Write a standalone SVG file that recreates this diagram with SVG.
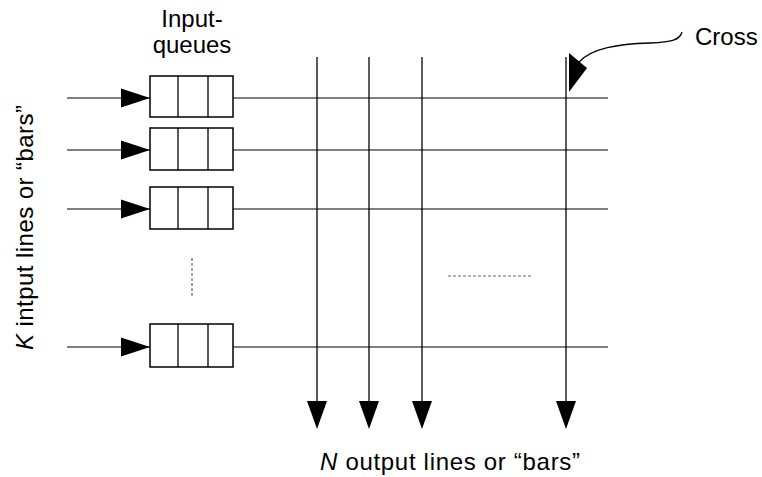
<svg xmlns="http://www.w3.org/2000/svg" width="762" height="477" viewBox="0 0 762 477">
<style>
.t{font-family:"Liberation Sans",Arial,sans-serif;font-size:24px;fill:#000}
.h{stroke:#555;stroke-width:1.5;fill:none}
.v{stroke:#000;stroke-width:1.3;fill:none}
.q{stroke:#000;stroke-width:1.5;fill:#fff}
.d{stroke:#000;stroke-width:1.3}
.ah{fill:#000}
.dot{stroke:#666;stroke-width:1.2;stroke-dasharray:3,2;fill:none}
</style>
<rect width="762" height="477" fill="#fff"/>
<g id="connectors">
  <line class="h" x1="67" y1="98" x2="608" y2="98"/>
  <line class="h" x1="67" y1="150" x2="608" y2="150"/>
  <line class="h" x1="67" y1="209" x2="608" y2="209"/>
  <line class="h" x1="67" y1="347" x2="608" y2="347"/>
  <polygon class="ah" points="121,88.5 150,98 121,107.5"/>
  <polygon class="ah" points="121,140.5 150,150 121,159.5"/>
  <polygon class="ah" points="121,199.5 150,209 121,218.5"/>
  <polygon class="ah" points="121,337.5 150,347 121,356.5"/>
  <line class="v" x1="317" y1="57" x2="317" y2="402"/>
  <line class="v" x1="369" y1="57" x2="369" y2="402"/>
  <line class="v" x1="422" y1="57" x2="422" y2="402"/>
  <line class="v" x1="566" y1="57" x2="566" y2="402"/>
  <polygon class="ah" points="307,401 327,401 317,429"/>
  <polygon class="ah" points="359,401 379,401 369,429"/>
  <polygon class="ah" points="412,401 432,401 422,429"/>
  <polygon class="ah" points="556,401 576,401 566,429"/>
  <path class="v" d="M682,32 C680,40 672,42 650,43 C618,44 592,48 579,62"/>
  <polygon class="ah" points="569,53 587,68 569,92"/>
  <line class="dot" x1="192" y1="258" x2="192" y2="298"/>
  <line class="dot" x1="448" y1="276" x2="532" y2="276"/>
</g>
<g id="queue1">
  <rect class="q" x="150" y="76" width="83" height="41"/>
  <line class="d" x1="178" y1="76" x2="178" y2="117"/>
  <line class="d" x1="208" y1="76" x2="208" y2="117"/>
</g>
<g id="queue2">
  <rect class="q" x="150" y="128" width="83" height="42"/>
  <line class="d" x1="178" y1="128" x2="178" y2="170"/>
  <line class="d" x1="208" y1="128" x2="208" y2="170"/>
</g>
<g id="queue3">
  <rect class="q" x="150" y="187" width="83" height="42"/>
  <line class="d" x1="178" y1="187" x2="178" y2="229"/>
  <line class="d" x1="208" y1="187" x2="208" y2="229"/>
</g>
<g id="queue4">
  <rect class="q" x="150" y="324" width="83" height="43"/>
  <line class="d" x1="178" y1="324" x2="178" y2="367"/>
  <line class="d" x1="208" y1="324" x2="208" y2="367"/>
</g>
<g id="labels">
  <text class="t" x="192" y="27" text-anchor="middle">Input-</text>
  <text class="t" x="192" y="53" text-anchor="middle">queues</text>
  <text class="t" x="695" y="45">Cross</text>
  <text class="t" x="320" y="470" textLength="260" lengthAdjust="spacing"><tspan font-style="italic">N</tspan> output lines or “bars”</text>
  <text class="t" transform="translate(33,350) rotate(-90)" textLength="245" lengthAdjust="spacing"><tspan font-style="italic">K</tspan> intput lines or “bars”</text>
</g>
</svg>
